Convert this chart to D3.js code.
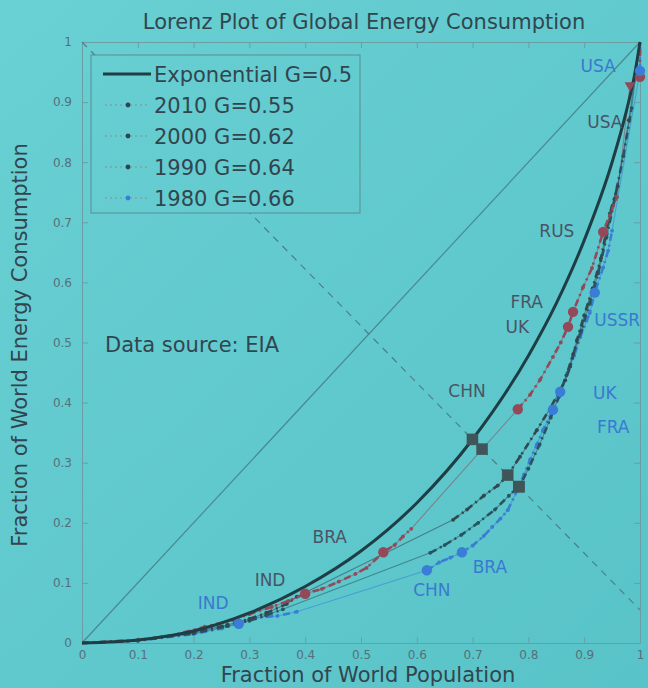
<!DOCTYPE html>
<html>
<head>
<meta charset="utf-8">
<script src="https://cdn.jsdelivr.net/npm/d3@7"></script>
<style>
  html, body { margin: 0; padding: 0; background: #5fc6ca; }
  svg { display: block; }
  text { font-family: "DejaVu Sans", "Liberation Sans", sans-serif; }
</style>
</head>
<body>
<svg id="chart" width="648" height="688"></svg>
<script>
// ---- tick values and labels ----
const xTicks = [0, 0.1, 0.2, 0.3, 0.4, 0.5, 0.6, 0.7, 0.8, 0.9, 1];
const xTickLabels = ["0", "0.1", "0.2", "0.3", "0.4", "0.5", "0.6", "0.7", "0.8", "0.9", "1"];
const yTicks = [0, 0.1, 0.2, 0.3, 0.4, 0.5, 0.6, 0.7, 0.8, 0.9, 1];
const yTickLabels = ["0", "0.1", "0.2", "0.3", "0.4", "0.5", "0.6", "0.7", "0.8", "0.9", "1"];

// ---- reference lines (population fraction, energy fraction) ----
const equalityLine = [[0, 0], [1, 1]];
const symmetryLine = [[0, 1.0], [1, 0.055]];

// ---- exponential-distribution Lorenz curve, G = 0.5 ----
const exponentialCurve = [
  [0, 0], [0.1, 0.005], [0.2, 0.02], [0.3, 0.05], [0.4, 0.094], [0.5, 0.153],
  [0.6, 0.233], [0.7, 0.339], [0.8, 0.478], [0.85, 0.565], [0.9, 0.67],
  [0.95, 0.80], [0.975, 0.883], [0.99, 0.944], [1, 1]
];

// ---- country-level Lorenz curves by year ----
const lorenz2010 = [
  [0, 0], [0.1, 0.005], [0.16, 0.012], [0.22, 0.027], [0.27, 0.038], [0.30, 0.048],
  [0.34, 0.06], [0.37, 0.07], [0.40, 0.082], [0.43, 0.09], [0.46, 0.102], [0.49, 0.115],
  [0.51, 0.125], [0.54, 0.151], [0.56, 0.163], [0.575, 0.177], [0.59, 0.19],
  [0.781, 0.389], [0.803, 0.413], [0.821, 0.438], [0.844, 0.476], [0.858, 0.5],
  [0.871, 0.526], [0.88, 0.551], [0.898, 0.592], [0.914, 0.624], [0.934, 0.684],
  [0.946, 0.712], [0.959, 0.742], [0.982, 0.928], [1.0, 0.942], [1, 1]
];
const lorenz2000 = [
  [0, 0], [0.1, 0.004], [0.2, 0.018], [0.26, 0.03], [0.3, 0.04], [0.33, 0.05],
  [0.367, 0.065], [0.385, 0.077], [0.665, 0.205], [0.69, 0.222], [0.72, 0.245],
  [0.745, 0.262], [0.762, 0.278], [0.785, 0.31], [0.815, 0.354], [0.84, 0.392],
  [0.857, 0.421], [0.866, 0.437], [0.875, 0.46], [0.887, 0.504], [0.9, 0.545],
  [0.915, 0.59], [0.93, 0.64], [0.946, 0.715], [0.96, 0.76], [0.98, 0.87], [1, 1]
];
const lorenz1990 = [
  [0, 0], [0.1, 0.004], [0.2, 0.016], [0.26, 0.028], [0.3, 0.037], [0.33, 0.046],
  [0.36, 0.056], [0.624, 0.15], [0.65, 0.163], [0.68, 0.18], [0.71, 0.2],
  [0.74, 0.222], [0.765, 0.245], [0.785, 0.262], [0.80, 0.29], [0.82, 0.33],
  [0.84, 0.375], [0.855, 0.41], [0.868, 0.445], [0.88, 0.48], [0.895, 0.52],
  [0.91, 0.565], [0.925, 0.615], [0.94, 0.675], [0.955, 0.74], [0.97, 0.81],
  [0.985, 0.89], [1, 1]
];
const lorenz1980 = [
  [0, 0], [0.1, 0.004], [0.2, 0.015], [0.25, 0.024], [0.281, 0.032], [0.31, 0.042],
  [0.35, 0.045], [0.385, 0.052], [0.618, 0.121], [0.64, 0.134], [0.66, 0.142],
  [0.681, 0.151], [0.70, 0.162], [0.72, 0.178], [0.735, 0.193], [0.75, 0.207],
  [0.763, 0.221], [0.78, 0.254], [0.792, 0.28], [0.803, 0.305], [0.815, 0.33],
  [0.826, 0.354], [0.844, 0.388], [0.857, 0.418], [0.87, 0.45], [0.882, 0.478],
  [0.893, 0.509], [0.91, 0.549], [0.919, 0.583], [0.934, 0.625], [0.943, 0.653],
  [0.95, 0.686], [1.0, 0.952], [1, 1]
];

const seriesYears = ["2010", "2000", "1990", "1980"];
const seriesGini = [0.55, 0.62, 0.64, 0.66];
const exponentialGini = 0.5;

// highlighted countries: name, point on the curve, label anchor
const countries2010 = ["IND", "BRA", "CHN", "UK", "FRA", "RUS", "USA"];
const points2010 = [[0.40, 0.082], [0.54, 0.151], [0.781, 0.389], [0.871, 0.526], [0.88, 0.551], [0.934, 0.684], [1.0, 0.942]];
const labels2010 = [[0.337, 0.105], [0.444, 0.176], [0.690, 0.419], [0.780, 0.526], [0.797, 0.567], [0.851, 0.685], [0.937, 0.867]];
const triangle2010 = [[0.982, 0.928]];

const countries1980 = ["IND", "CHN", "BRA", "FRA", "UK", "USSR", "USA"];
const points1980 = [[0.281, 0.032], [0.618, 0.121], [0.681, 0.151], [0.844, 0.388], [0.857, 0.418], [0.919, 0.583], [1.0, 0.952]];
const labels1980 = [[0.235, 0.067], [0.627, 0.088], [0.731, 0.126], [0.952, 0.359], [0.937, 0.416], [0.959, 0.537], [0.925, 0.960]];

// ---- layout ----
const W = 648, H = 688;
const plot = { left: 82, right: 640, top: 42, bottom: 643 };
const x = d3.scaleLinear().domain([0, 1]).range([plot.left, plot.right]);
const y = d3.scaleLinear().domain([0, 1]).range([plot.bottom, plot.top]);

const colors = { "2010": "#94495a", "2000": "#33474e", "1990": "#285461", "1980": "#3a7dd6" };
const textDark = "#32454e";
const labelGray = "#4a5466";
const labelBlue = "#3a79d0";
const axisColor = "#6a9ea5";

const svg = d3.select("#chart");
const defs = svg.append("defs");
const bg = defs.append("linearGradient").attr("id", "bg")
  .attr("gradientUnits", "userSpaceOnUse")
  .attr("x1", 0).attr("y1", 0).attr("x2", W).attr("y2", H);
bg.append("stop").attr("offset", "0%").attr("stop-color", "#69d0d3");
bg.append("stop").attr("offset", "100%").attr("stop-color", "#58c3c8");

svg.append("rect").attr("width", W).attr("height", H).attr("fill", "url(#bg)");

// ---- axes (box with inward ticks) ----
function styleAxis(g) {
  g.select(".domain").attr("stroke", axisColor).attr("stroke-width", 1);
  g.selectAll(".tick line").attr("stroke", axisColor).attr("stroke-width", 1);
  g.selectAll(".tick text").attr("fill", "#55707a").attr("font-size", 12)
    .attr("font-family", "DejaVu Sans, sans-serif");
}
svg.append("g").attr("transform", `translate(0,${plot.bottom})`)
  .call(d3.axisBottom(x).tickValues(xTicks).tickFormat((d, i) => xTickLabels[i])
    .tickSizeInner(-6).tickSizeOuter(0).tickPadding(7))
  .call(styleAxis);
svg.append("g").attr("transform", `translate(0,${plot.top})`)
  .call(d3.axisTop(x).tickValues(xTicks).tickFormat("").tickSizeInner(-6).tickSizeOuter(0))
  .call(styleAxis);
svg.append("g").attr("transform", `translate(${plot.left},0)`)
  .call(d3.axisLeft(y).tickValues(yTicks).tickFormat((d, i) => yTickLabels[i])
    .tickSizeInner(-6).tickSizeOuter(0).tickPadding(10))
  .call(styleAxis);
svg.append("g").attr("transform", `translate(${plot.right},0)`)
  .call(d3.axisRight(y).tickValues(yTicks).tickFormat("").tickSizeInner(-6).tickSizeOuter(0))
  .call(styleAxis);

// ---- reference lines ----
const straight = d3.line().x(d => x(d[0])).y(d => y(d[1]));
svg.append("path").attr("d", straight(equalityLine))
  .attr("fill", "none").attr("stroke", "#4b8890").attr("stroke-width", 1.2);
svg.append("path").attr("d", straight(symmetryLine))
  .attr("fill", "none").attr("stroke", "#4b8189").attr("stroke-width", 1.2)
  .attr("stroke-dasharray", "7 6");

// ---- year curves ----
const series = [
  { year: "2010", data: lorenz2010 },
  { year: "2000", data: lorenz2000 },
  { year: "1990", data: lorenz1990 },
  { year: "1980", data: lorenz1980 }
];

// thin connectors through every point
series.forEach(s => {
  svg.append("path").attr("d", straight(s.data))
    .attr("fill", "none").attr("stroke", colors[s.year])
    .attr("stroke-width", 1.1).attr("stroke-opacity", 0.55);
});

// dash-dot runs where consecutive countries sit close together
function closeRuns(data) {
  const runs = [];
  let run = [data[0]];
  for (let i = 1; i < data.length; i++) {
    const a = data[i - 1], b = data[i];
    const dist = Math.hypot(x(b[0]) - x(a[0]), y(b[1]) - y(a[1]));
    if (dist < 60) run.push(b);
    else { if (run.length > 1) runs.push(run); run = [b]; }
  }
  if (run.length > 1) runs.push(run);
  return runs;
}
series.slice().reverse().forEach(s => {
  closeRuns(s.data).forEach(run => {
    svg.append("path").attr("d", straight(run))
      .attr("fill", "none").attr("stroke", colors[s.year])
      .attr("stroke-width", 2.6).attr("stroke-dasharray", "7 4 2 4");
  });
  svg.append("g").selectAll("circle").data(s.data.filter(d => d[0] > 0 && d[0] < 1)).join("circle")
    .attr("cx", d => x(d[0])).attr("cy", d => y(d[1])).attr("r", 1.9)
    .attr("fill", colors[s.year]);
});

// ---- exponential curve ----
svg.append("path")
  .attr("d", d3.line().x(d => x(d[0])).y(d => y(d[1])).curve(d3.curveMonotoneX)(exponentialCurve))
  .attr("fill", "none").attr("stroke", "#1f3d44").attr("stroke-width", 3);

// ---- squares where each curve meets the symmetry line ----
function crossing(data) {
  const [a, b] = symmetryLine;
  const f = p => p[1] - (a[1] + (b[1] - a[1]) * (p[0] - a[0]) / (b[0] - a[0]));
  for (let i = 1; i < data.length; i++) {
    const f0 = f(data[i - 1]), f1 = f(data[i]);
    if (f0 <= 0 && f1 >= 0 && f1 !== f0) {
      const t = -f0 / (f1 - f0);
      return [data[i - 1][0] + t * (data[i][0] - data[i - 1][0]),
              data[i - 1][1] + t * (data[i][1] - data[i - 1][1])];
    }
  }
  return null;
}
const crossings = [exponentialCurve, lorenz2010, lorenz2000, lorenz1990, lorenz1980]
  .map(crossing).filter(Boolean);
svg.append("g").selectAll("rect").data(crossings).join("rect")
  .attr("x", d => x(d[0]) - 5.5).attr("y", d => y(d[1]) - 5.5)
  .attr("width", 11).attr("height", 11)
  .attr("fill", "#3f5559").attr("stroke", "#3f5559").attr("stroke-width", 0.5);

// ---- highlighted countries ----
svg.append("g").selectAll("circle").data(points2010).join("circle")
  .attr("cx", d => x(d[0])).attr("cy", d => y(d[1])).attr("r", 5.2)
  .attr("fill", colors["2010"]);
svg.append("g").selectAll("path").data(triangle2010).join("path")
  .attr("d", d3.symbol(d3.symbolTriangle, 50)())
  .attr("transform", d => `translate(${x(d[0])},${y(d[1])}) rotate(180)`)
  .attr("fill", colors["2010"]);
svg.append("g").selectAll("circle").data(points1980).join("circle")
  .attr("cx", d => x(d[0])).attr("cy", d => y(d[1])).attr("r", 5.2)
  .attr("fill", colors["1980"]);

svg.append("g").selectAll("text").data(countries2010).join("text")
  .attr("x", (d, i) => x(labels2010[i][0])).attr("y", (d, i) => y(labels2010[i][1]))
  .attr("dy", "0.36em").attr("text-anchor", "middle")
  .attr("font-size", 17).attr("fill", labelGray).text(d => d);
svg.append("g").selectAll("text").data(countries1980).join("text")
  .attr("x", (d, i) => x(labels1980[i][0])).attr("y", (d, i) => y(labels1980[i][1]))
  .attr("dy", "0.36em").attr("text-anchor", "middle")
  .attr("font-size", 17).attr("fill", labelBlue).text(d => d);

// ---- titles and note ----
svg.append("text").attr("x", 364).attr("y", 29).attr("text-anchor", "middle")
  .attr("font-size", 21).attr("fill", textDark)
  .text("Lorenz Plot of Global Energy Consumption");
svg.append("text").attr("x", 368).attr("y", 682).attr("text-anchor", "middle")
  .attr("font-size", 21).attr("fill", textDark)
  .text("Fraction of World Population");
svg.append("text").attr("transform", "translate(27,345) rotate(-90)")
  .attr("text-anchor", "middle").attr("font-size", 21).attr("fill", textDark)
  .text("Fraction of World Energy Consumption");
svg.append("text").attr("x", 105).attr("y", 352)
  .attr("font-size", 21).attr("fill", textDark)
  .text("Data source: EIA");

// ---- legend ----
const legend = svg.append("g");
legend.append("rect").attr("x", 91).attr("y", 55).attr("width", 269).attr("height", 158)
  .attr("fill", "url(#bg)").attr("stroke", "#5b8c92").attr("stroke-width", 1);
const legendRows = [{ text: `Exponential G=${exponentialGini}`, year: null }]
  .concat(seriesYears.map((yr, i) => ({ text: `${yr} G=${seriesGini[i]}`, year: yr })));
legendRows.forEach((r, i) => {
  const cy = 74 + i * 31;
  if (r.year === null) {
    legend.append("line").attr("x1", 103).attr("x2", 151).attr("y1", cy).attr("y2", cy)
      .attr("stroke", "#1f3d44").attr("stroke-width", 3);
  } else {
    legend.append("line").attr("x1", 105).attr("x2", 150).attr("y1", cy).attr("y2", cy)
      .attr("stroke", "#7aa3a9").attr("stroke-width", 1.4).attr("stroke-dasharray", "2 3");
    legend.append("circle").attr("cx", 128).attr("cy", cy).attr("r", 2.4)
      .attr("fill", r.year === "1980" ? colors["1980"] : "#2c4650");
  }
  legend.append("text").attr("x", 154).attr("y", cy).attr("dy", "0.36em")
    .attr("font-size", 21).attr("fill", textDark).text(r.text);
});
</script>
</body>
</html>
